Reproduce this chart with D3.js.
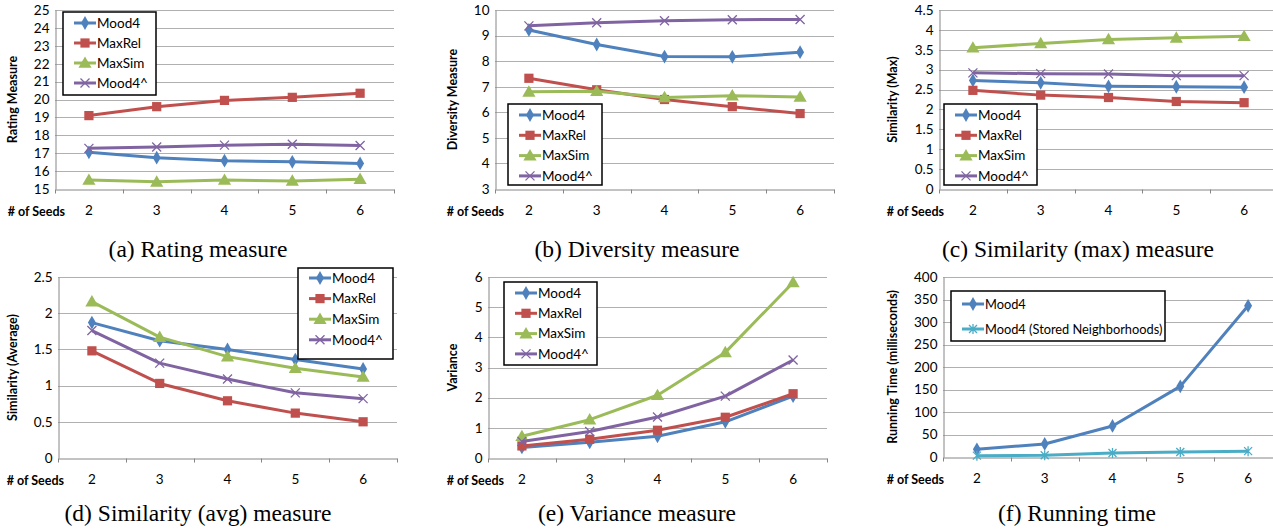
<!DOCTYPE html>
<html>
<head>
<meta charset="utf-8">
<script src="https://cdn.jsdelivr.net/npm/d3@7"></script>
<style>
  body { margin: 0; background: #fff; }
  svg { display: block; }
  text { font-family: Lato, "Open Sans", sans-serif; fill: #000; }
  .caption { font-family: "Liberation Serif", "Times New Roman", serif; }
</style>
</head>
<body>
<svg id="chart" width="1273" height="531"></svg>
<script>
const seeds = ["2", "3", "4", "5", "6"];

// (a) rating measure
const ratingMood4  = [17.05, 16.75, 16.58, 16.52, 16.43];
const ratingMaxRel = [19.1, 19.6, 19.95, 20.12, 20.35];
const ratingMaxSim = [15.5, 15.4, 15.5, 15.45, 15.55];
const ratingMood4h = [17.27, 17.35, 17.45, 17.5, 17.43];

// (b) diversity measure
const divMood4  = [9.22, 8.65, 8.18, 8.17, 8.35];
const divMaxRel = [7.33, 6.88, 6.5, 6.22, 5.95];
const divMaxSim = [6.8, 6.82, 6.58, 6.65, 6.6];
const divMood4h = [9.38, 9.5, 9.58, 9.62, 9.63];

// (c) similarity (max)
const maxMood4  = [2.73, 2.67, 2.58, 2.57, 2.56];
const maxMaxRel = [2.48, 2.36, 2.3, 2.2, 2.17];
const maxMaxSim = [3.55, 3.66, 3.76, 3.8, 3.84];
const maxMood4h = [2.92, 2.9, 2.89, 2.85, 2.85];

// (d) similarity (average)
const avgMood4  = [1.87, 1.62, 1.5, 1.36, 1.23];
const avgMaxRel = [1.48, 1.03, 0.79, 0.62, 0.5];
const avgMaxSim = [2.16, 1.67, 1.4, 1.24, 1.12];
const avgMood4h = [1.76, 1.31, 1.09, 0.9, 0.82];

// (e) variance
const varMood4  = [0.35, 0.52, 0.72, 1.2, 2.05];
const varMaxRel = [0.4, 0.62, 0.92, 1.35, 2.13];
const varMaxSim = [0.72, 1.27, 2.08, 3.5, 5.82];
const varMood4h = [0.55, 0.88, 1.36, 2.05, 3.25];

// (f) running time
const timeMood4  = [17, 29, 69, 157, 336];
const timeStored = [3, 4, 9, 11, 13];

const styles = {
  "Mood4":  { color: "#4f81bd", mark: "diamond" },
  "MaxRel": { color: "#c0504d", mark: "square" },
  "MaxSim": { color: "#9bbb59", mark: "triangle" },
  "Mood4^": { color: "#8064a2", mark: "cross" },
  "Mood4 (Stored Neighborhoods)": { color: "#4bacc6", mark: "star" }
};

const four = (a, b, c, d) => [
  { name: "Mood4", values: a }, { name: "MaxRel", values: b },
  { name: "MaxSim", values: c }, { name: "Mood4^", values: d }
];

const panels = [
  { x0: 55, y0: 10, y1: 189, domain: [15, 25], step: 1, title: "Rating Measure", tx: 13, seedsX: 65,
    caption: "(a) Rating measure", capX: 198, capY: 257,
    series: four(ratingMood4, ratingMaxRel, ratingMaxSim, ratingMood4h),
    legend: { x: 63, y: 12, w: 93, h: 83, first: 11, gap: 20, fs: 13.5 } },
  { x0: 495, y0: 10, y1: 189, domain: [3, 10], step: 1, title: "Diversity Measure", tx: 453, seedsX: 504,
    caption: "(b) Diversity measure", capX: 637, capY: 257,
    series: four(divMood4, divMaxRel, divMaxSim, divMood4h),
    legend: { x: 508, y: 104, w: 94, h: 81, first: 11, gap: 20.3, fs: 13.5 } },
  { x0: 939, y0: 10, y1: 189, domain: [0, 4.5], step: 0.5, title: "Similarity (Max)", tx: 893, seedsX: 944,
    caption: "(c) Similarity (max) measure", capX: 1078, capY: 257,
    series: four(maxMood4, maxMaxRel, maxMaxSim, maxMood4h),
    legend: { x: 944, y: 104, w: 93, h: 81, first: 11, gap: 20.3, fs: 13.5 } },
  { x0: 58, y0: 277, y1: 458, domain: [0, 2.5], step: 0.5, title: "Similarity (Average)", tx: 13, seedsX: 64,
    caption: "(d) Similarity (avg) measure", capX: 198, capY: 521,
    series: four(avgMood4, avgMaxRel, avgMaxSim, avgMood4h),
    legend: { x: 298, y: 268, w: 95, h: 91, first: 10, gap: 20.6, fs: 13.5 } },
  { x0: 488, y0: 277, y1: 458, domain: [0, 6], step: 1, title: "Variance", tx: 453, seedsX: 504,
    caption: "(e) Variance measure", capX: 637, capY: 521,
    series: four(varMood4, varMaxRel, varMaxSim, varMood4h),
    legend: { x: 504, y: 282, w: 93, h: 83, first: 11, gap: 20.3, fs: 13.5 } },
  { x0: 943, y0: 277, y1: 457, domain: [0, 400], step: 50, title: "Running Time (milliseconds)", tx: 893, seedsX: 944,
    caption: "(f) Running time", capX: 1077, capY: 521,
    series: [{ name: "Mood4", values: timeMood4 }, { name: "Mood4 (Stored Neighborhoods)", values: timeStored }],
    legend: { x: 951, y: 291, w: 214, h: 50, first: 13, gap: 25, fs: 12.8 } }
];

const svg = d3.select("#chart");
const plotW = 339;

function drawMarker(g, mark, color, x, y) {
  if (mark === "diamond") {
    g.append("path").attr("d", d3.symbol(d3.symbolDiamond, 55)())
      .attr("transform", `translate(${x},${y})`).attr("fill", color);
  } else if (mark === "square") {
    g.append("path").attr("d", d3.symbol(d3.symbolSquare, 85)())
      .attr("transform", `translate(${x},${y})`).attr("fill", color);
  } else if (mark === "triangle") {
    g.append("path").attr("d", d3.symbol(d3.symbolTriangle, 75)())
      .attr("transform", `translate(${x},${y + 1})`).attr("fill", color);
  } else if (mark === "cross") {
    g.append("path").attr("d", "M-4.5,-4.5L4.5,4.5M-4.5,4.5L4.5,-4.5")
      .attr("transform", `translate(${x},${y})`)
      .attr("stroke", color).attr("stroke-width", 1.3).attr("fill", "none");
  } else if (mark === "star") {
    g.append("path").attr("d", "M-4,-4L4,4M-4,4L4,-4M0,-5L0,5")
      .attr("transform", `translate(${x},${y})`)
      .attr("stroke", color).attr("stroke-width", 1.3).attr("fill", "none");
  }
}

panels.forEach(p => {
  const g = svg.append("g");

  const x = d3.scaleBand().domain(seeds).range([p.x0, p.x0 + plotW]);
  const y = d3.scaleLinear().domain(p.domain).range([p.y1, p.y0]);
  const ticks = d3.range(p.domain[0], p.domain[1] + p.step / 2, p.step);

  // gridlines
  g.append("g").selectAll("line")
    .data(ticks.slice(1))
    .enter().append("line")
    .attr("x1", p.x0).attr("x2", p.x0 + plotW)
    .attr("y1", d => Math.round(y(d)) + 0.5).attr("y2", d => Math.round(y(d)) + 0.5)
    .attr("stroke", "#b0b0b0").attr("stroke-width", 1);

  // y axis
  const yAxis = g.append("g")
    .attr("transform", `translate(${p.x0 + 0.5},0)`)
    .call(d3.axisLeft(y).tickValues(ticks).tickSize(0).tickPadding(6)
      .tickFormat(d => d3.format("~g")(d)));
  yAxis.select(".domain").attr("stroke", "#868686");
  yAxis.selectAll("text").attr("font-size", 13.5).attr("font-family", "Lato, sans-serif");

  // x axis
  const bottom = Math.round(y(p.domain[0])) + 0.5;
  const xAxis = g.append("g")
    .attr("transform", `translate(0,${bottom})`)
    .call(d3.axisBottom(x).tickSize(0).tickPadding(16));
  xAxis.select(".domain").attr("stroke", "#868686");
  xAxis.selectAll("text").attr("font-size", 13.5).attr("font-family", "Lato, sans-serif");
  g.append("g").selectAll("line")
    .data(d3.range(seeds.length + 1))
    .enter().append("line")
    .attr("x1", i => Math.round(p.x0 + i * x.step()) + 0.5)
    .attr("x2", i => Math.round(p.x0 + i * x.step()) + 0.5)
    .attr("y1", bottom).attr("y2", bottom + 4)
    .attr("stroke", "#868686");

  g.append("text")
    .attr("x", p.seedsX).attr("y", bottom + 26)
    .attr("text-anchor", "end")
    .attr("font-size", 12.5).attr("font-weight", "bold")
    .text("# of Seeds");

  g.append("text")
    .attr("transform", `translate(${p.tx + 4},${(p.y0 + p.y1) / 2}) rotate(-90)`)
    .attr("text-anchor", "middle")
    .attr("font-size", 12.5).attr("font-weight", "bold")
    .text(p.title);

  // series
  const line = d3.line()
    .x((d, i) => x(seeds[i]) + x.bandwidth() / 2)
    .y(d => y(d));

  p.series.forEach(s => {
    const st = styles[s.name];
    g.append("path")
      .datum(s.values)
      .attr("d", line)
      .attr("fill", "none")
      .attr("stroke", st.color)
      .attr("stroke-width", 3)
      .attr("stroke-linejoin", "round");
    s.values.forEach((v, i) => {
      drawMarker(g, st.mark, st.color, x(seeds[i]) + x.bandwidth() / 2, y(v));
    });
  });

  // legend
  const L = p.legend;
  const lg = g.append("g");
  lg.append("rect")
    .attr("x", L.x).attr("y", L.y).attr("width", L.w).attr("height", L.h)
    .attr("fill", "#fff").attr("stroke", "#000").attr("stroke-width", 1.5);
  p.series.forEach((s, i) => {
    const st = styles[s.name];
    const ly = L.y + L.first + i * L.gap;
    const lx = L.x + 11;
    lg.append("line")
      .attr("x1", lx).attr("x2", lx + 22).attr("y1", ly).attr("y2", ly)
      .attr("stroke", st.color).attr("stroke-width", 3);
    drawMarker(lg, st.mark, st.color, lx + 11, ly);
    lg.append("text")
      .attr("x", lx + 23).attr("y", ly + 4.8)
      .attr("font-size", L.fs)
      .text(s.name);
  });

  // caption
  svg.append("text")
    .attr("class", "caption")
    .attr("x", p.capX).attr("y", p.capY)
    .attr("text-anchor", "middle")
    .attr("font-size", 23.5)
    .text(p.caption);
});
</script>
</body>
</html>
